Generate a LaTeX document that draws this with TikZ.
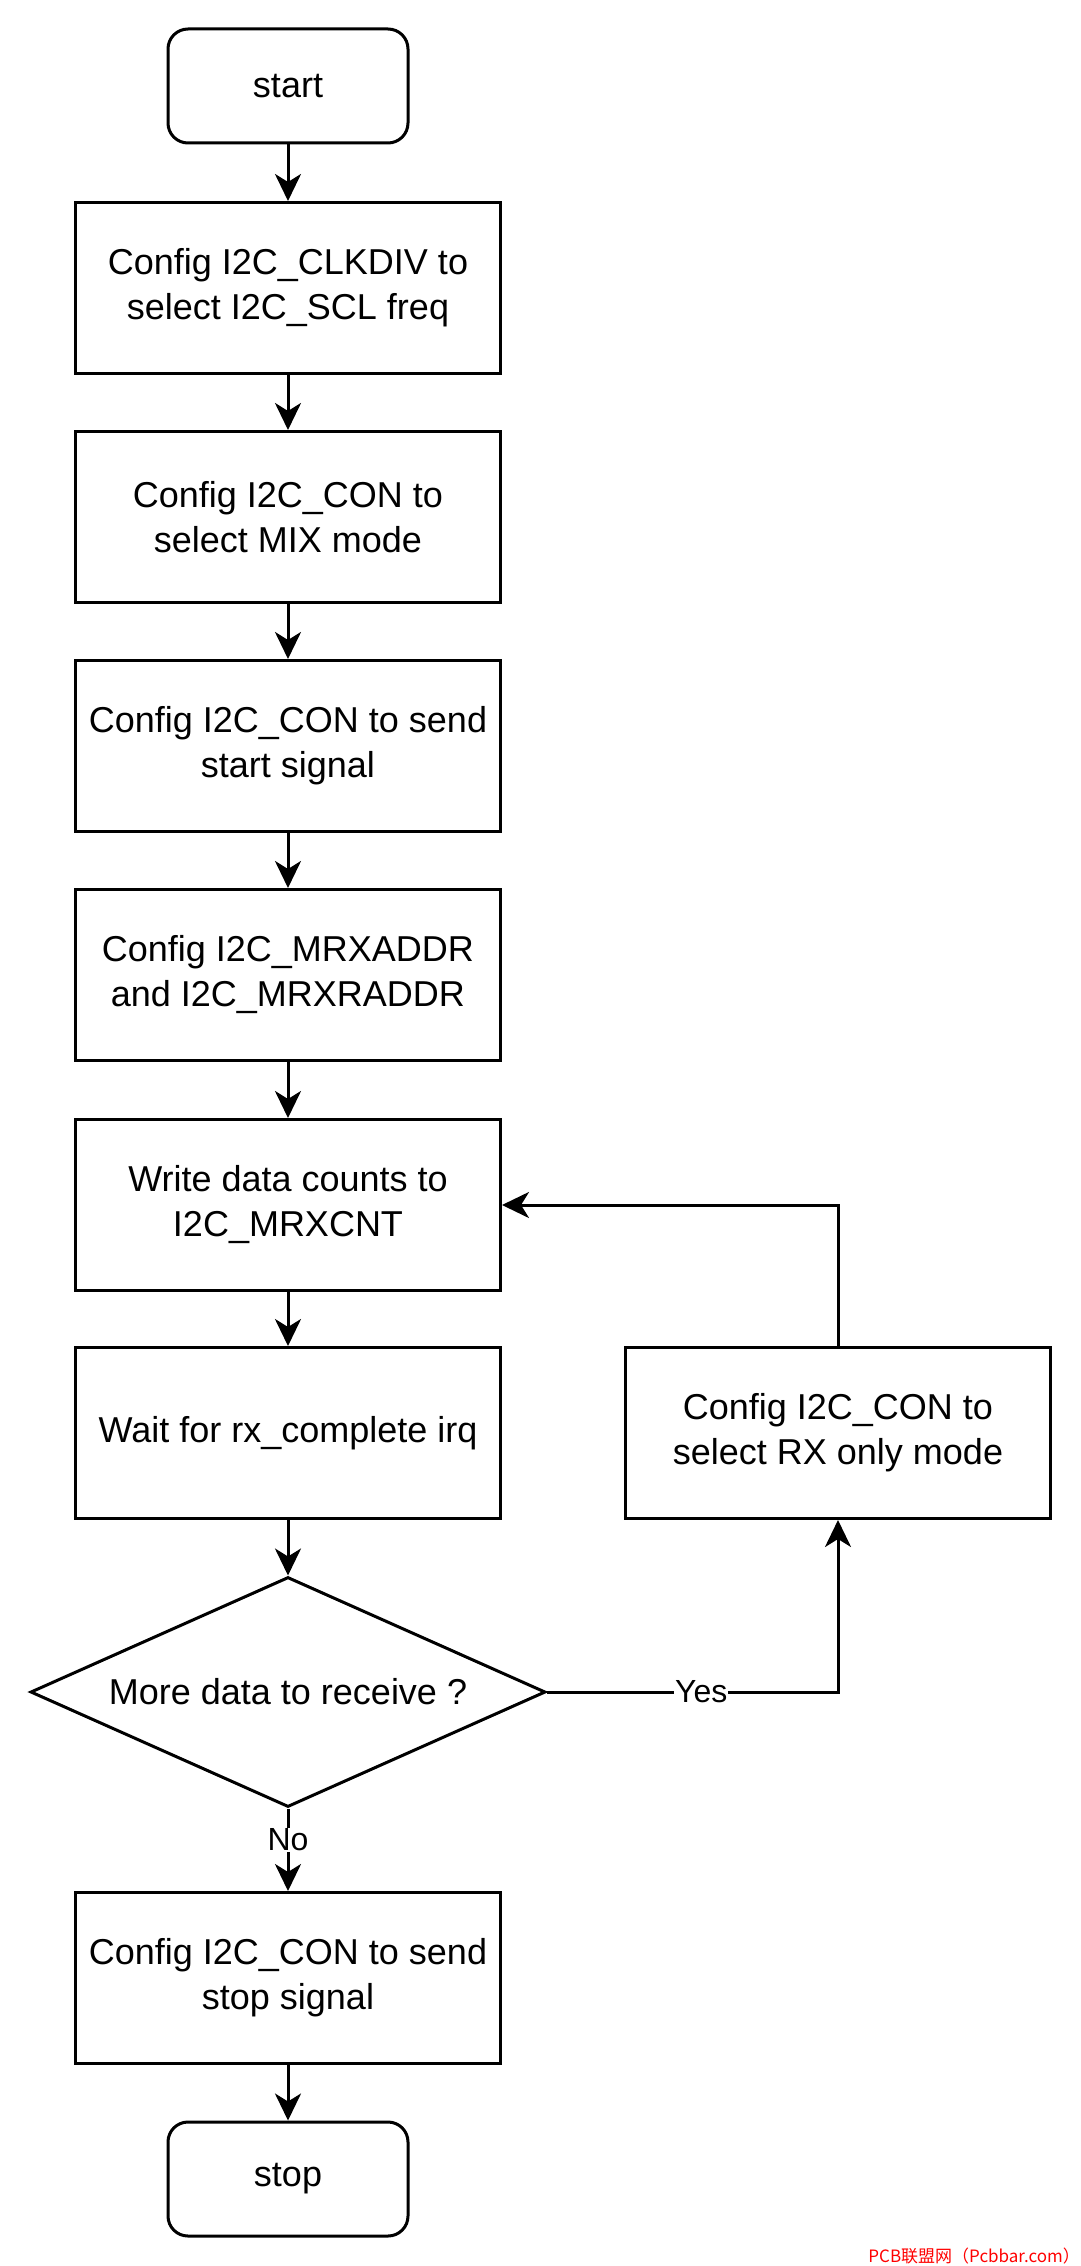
\documentclass[tikz,border=0pt]{standalone}
\usepackage{fontspec}
\setmainfont{Liberation Sans}
\newfontfamily\cjkfont{Noto Sans CJK SC}
\usetikzlibrary{shapes.geometric,arrows.meta}
\begin{document}
\begin{tikzpicture}[x=1pt,y=-1pt,
  every node/.style={font=\fontsize{36}{45}\selectfont, align=center, inner sep=0pt},
  procbox/.style={draw, line width=3pt, minimum width=425pt, minimum height=171pt},
  termbox/.style={draw, line width=3pt, rounded corners=20pt, minimum width=240pt, minimum height=114pt},
  decbox/.style={draw, diamond, line width=3pt, aspect=2.24, minimum width=515pt, minimum height=230pt},
  arr/.style={line width=3pt, -{Stealth[length=27pt, width=26pt, inset=8pt]}},
  lbl/.style={fill=white, font=\fontsize{32}{38}\selectfont, inner sep=1pt}]
\useasboundingbox (0,0) rectangle (1080,2266);
\fill[white] (0,0) rectangle (1080,2266);

\node[termbox] (start) at (288,86) {start};
\node[procbox] (b1) at (288,288) {Config I2C\_CLKDIV to\\select I2C\_SCL freq};
\node[procbox] (b2) at (288,517) {Config I2C\_CON to\\select MIX mode};
\node[procbox] (b3) at (288,746) {Config I2C\_CON to send\\start signal};
\node[procbox] (b4) at (288,975) {Config I2C\_MRXADDR\\and I2C\_MRXRADDR};
\node[procbox] (b5) at (288,1205) {Write data counts to\\I2C\_MRXCNT};
\node[procbox] (b6) at (288,1433) {Wait for rx\_complete irq};
\node[procbox] (rx) at (838,1433) {Config I2C\_CON to\\select RX only mode};
\node[decbox] (dec) at (288,1692) {More data to receive ?};
\node[procbox] (b7) at (288,1978) {Config I2C\_CON to send\\stop signal};
\node[termbox] (stop) at (288,2179) {stop};

\draw[arr] (start) -- (b1);
\draw[arr] (b1) -- (b2);
\draw[arr] (b2) -- (b3);
\draw[arr] (b3) -- (b4);
\draw[arr] (b4) -- (b5);
\draw[arr] (b5) -- (b6);
\draw[arr] (b6) -- (dec);
\draw[arr] (dec.south) -- node[lbl, pos=0.38] {No} (b7.north);
\draw[arr] (dec.east) -- node[lbl, pos=0.53] {Yes} (dec.east -| rx.south) -- (rx.south);
\draw[arr] (rx.north) -- (rx.north |- b5.east) -- (b5.east);
\draw[arr] (b7) -- (stop);

\node[text=red, font=\cjkfont\fontsize{17}{20}\selectfont, anchor=south east] (wm) at (1080,2264) {PCB联盟网（Pcbbar.com）};
\end{tikzpicture}
\end{document}
